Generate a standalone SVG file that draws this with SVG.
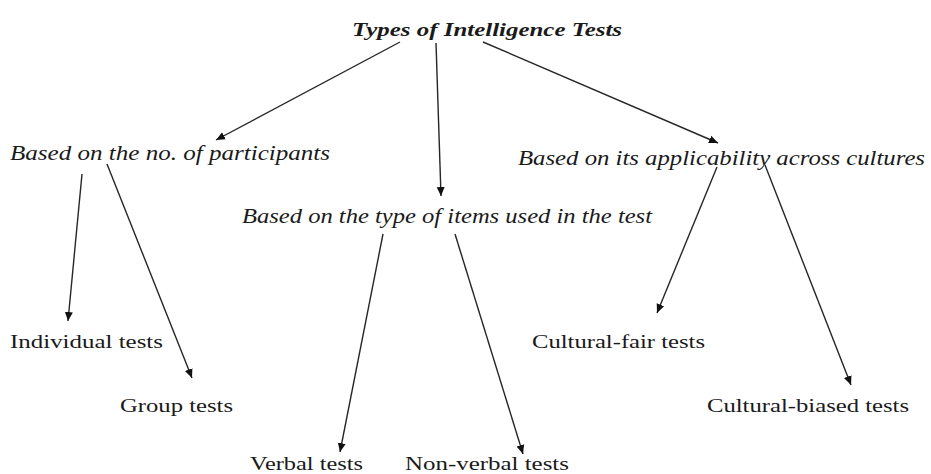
<svg xmlns="http://www.w3.org/2000/svg" width="931" height="474" viewBox="0 0 931 474">
<style>
text{font-family:'Liberation Serif',Tinos,'Times New Roman',Times,'Nimbus Roman',serif;fill:#1a1a1a}
.title{font-size:19px;font-weight:bold;font-style:italic}
.cat{font-size:20px;font-style:italic}
.leaf{font-size:19px}
.c line{stroke:#262626;stroke-width:1.4;marker-end:url(#ah)}
</style>
<defs>
<marker id="ah" markerUnits="userSpaceOnUse" markerWidth="10" markerHeight="10" viewBox="0 0 10 10" refX="9" refY="5" orient="auto">
<path d="M0,1 L9,5 L0,9 Z" fill="#111"/>
</marker>
</defs>
<rect width="931" height="474" fill="#fff"/>
<g id="root"><text class="title" font-family="Liberation Serif, serif" x="352" y="36" textLength="270" lengthAdjust="spacingAndGlyphs">Types of Intelligence Tests</text></g>
<g id="participants"><text class="cat" x="10" y="160" textLength="320" lengthAdjust="spacingAndGlyphs">Based on the no. of participants</text></g>
<g id="items"><text class="cat" x="242" y="223" textLength="410" lengthAdjust="spacingAndGlyphs">Based on the type of items used in the test</text></g>
<g id="cultures"><text class="cat" x="518" y="165" textLength="407" lengthAdjust="spacingAndGlyphs">Based on its applicability across cultures</text></g>
<g id="individual"><text class="leaf" x="10" y="348" textLength="153" lengthAdjust="spacingAndGlyphs">Individual tests</text></g>
<g id="group"><text class="leaf" x="120" y="412" textLength="113" lengthAdjust="spacingAndGlyphs">Group tests</text></g>
<g id="verbal"><text class="leaf" x="250" y="470" textLength="113" lengthAdjust="spacingAndGlyphs">Verbal tests</text></g>
<g id="nonverbal"><text class="leaf" x="405" y="470" textLength="164" lengthAdjust="spacingAndGlyphs">Non-verbal tests</text></g>
<g id="fair"><text class="leaf" x="532" y="348" textLength="173" lengthAdjust="spacingAndGlyphs">Cultural-fair tests</text></g>
<g id="biased"><text class="leaf" x="707" y="412" textLength="202" lengthAdjust="spacingAndGlyphs">Cultural-biased tests</text></g>
<g class="c" id="connectors">
<line x1="400" y1="42" x2="216" y2="140"/>
<line x1="436" y1="43" x2="441" y2="196"/>
<line x1="483" y1="42" x2="718" y2="143"/>
<line x1="82" y1="174" x2="68" y2="321"/>
<line x1="107" y1="164" x2="192" y2="378"/>
<line x1="383" y1="234" x2="340" y2="452"/>
<line x1="455" y1="234" x2="523" y2="454"/>
<line x1="717" y1="167" x2="657" y2="313"/>
<line x1="765" y1="165" x2="851" y2="385"/>
</g>
</svg>
